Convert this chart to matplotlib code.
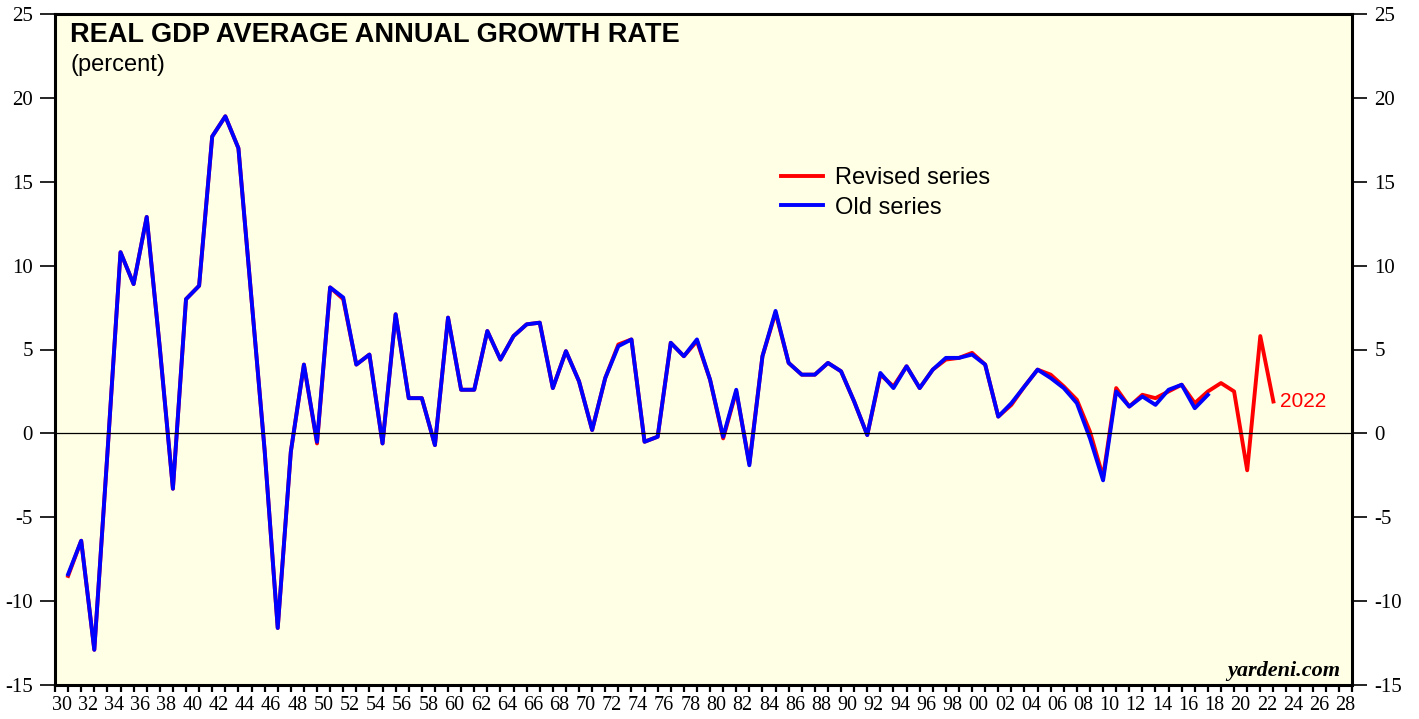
import matplotlib
matplotlib.use("Agg")
import matplotlib.pyplot as plt
from matplotlib.ticker import FixedLocator, NullFormatter

# annual real GDP growth, percent
years_rev = list(range(1930, 2023))
revised = [-8.5, -6.4, -12.9, -1.2, 10.8, 8.9, 12.9, 5.1, -3.3, 8.0,
           8.8, 17.7, 18.9, 17.0, 8.0, -1.0, -11.6, -1.1, 4.1, -0.6,
           8.7, 8.0, 4.1, 4.7, -0.6, 7.1, 2.1, 2.1, -0.7, 6.9,
           2.6, 2.6, 6.1, 4.4, 5.8, 6.5, 6.6, 2.7, 4.9, 3.1,
           0.2, 3.3, 5.3, 5.6, -0.5, -0.2, 5.4, 4.6, 5.5, 3.2,
           -0.3, 2.5, -1.8, 4.6, 7.2, 4.2, 3.5, 3.5, 4.2, 3.7,
           1.9, -0.1, 3.5, 2.8, 4.0, 2.7, 3.8, 4.4, 4.5, 4.8,
           4.1, 1.0, 1.7, 2.8, 3.8, 3.5, 2.8, 2.0, 0.1, -2.6,
           2.7, 1.6, 2.3, 2.1, 2.5, 2.9, 1.8, 2.5, 3.0, 2.5,
           -2.2, 5.8, 1.9]

years_old = list(range(1930, 2018))
old = [-8.4, -6.4, -12.9, -1.2, 10.8, 8.9, 12.9, 5.1, -3.3, 8.0,
       8.8, 17.7, 18.9, 17.0, 8.0, -1.0, -11.6, -1.1, 4.1, -0.5,
       8.7, 8.1, 4.1, 4.7, -0.6, 7.1, 2.1, 2.1, -0.7, 6.9,
       2.6, 2.6, 6.1, 4.4, 5.8, 6.5, 6.6, 2.7, 4.9, 3.1,
       0.2, 3.3, 5.2, 5.6, -0.5, -0.2, 5.4, 4.6, 5.6, 3.2,
       -0.2, 2.6, -1.9, 4.6, 7.3, 4.2, 3.5, 3.5, 4.2, 3.7,
       1.9, -0.1, 3.6, 2.7, 4.0, 2.7, 3.8, 4.5, 4.5, 4.7,
       4.1, 1.0, 1.8, 2.8, 3.8, 3.3, 2.7, 1.8, -0.3, -2.8,
       2.5, 1.6, 2.2, 1.7, 2.6, 2.9, 1.5, 2.3]

label_years = list(range(1930, 2029, 2))

serif = "Liberation Serif"
sans = "Liberation Sans"
plt.rcParams["axes.unicode_minus"] = False

fig = plt.figure(figsize=(14.19, 7.19), dpi=100)
ax = fig.add_axes([55 / 1419, 34 / 719, 1297 / 1419, 671 / 719])
ax.set_facecolor("#ffffe6")

# points sit at year end
ax.plot([y + 1 for y in years_rev], revised, color="#ff0000", lw=2.8,
        solid_joinstyle="round", label="Revised series")
ax.plot([y + 1 for y in years_old], old, color="#0000ff", lw=2.8,
        solid_joinstyle="round", label="Old series")
ax.axhline(0, color="black", lw=0.9)

ax.set_xlim(1930, 2029)
ax.set_ylim(-15, 25)

for s in ax.spines.values():
    s.set_linewidth(2.2)

# x: ticks at year boundaries, labels centred in the year
ax.xaxis.set_major_locator(FixedLocator(range(1930, 2030)))
ax.xaxis.set_major_formatter(NullFormatter())
ax.xaxis.set_minor_locator(FixedLocator([y + 0.5 for y in label_years]))
ax.set_xticklabels(["%02d" % (y % 100) for y in label_years], minor=True)
ax.tick_params(axis="x", which="major", direction="out", length=5, width=1.6)
ax.tick_params(axis="x", which="minor", length=0, pad=8, labelsize=14.5)
for t in ax.get_xticklabels(minor=True):
    t.set_fontfamily(serif)

ax.set_yticks(range(-15, 26, 5))
ax.tick_params(axis="y", which="major", direction="out", length=11, width=1.2,
               labelsize=15, left=True, right=True, labelleft=True, labelright=True, pad=5)
for t in ax.get_yticklabels():
    t.set_fontfamily(serif)

ax.text(0.0116, 0.988, "REAL GDP AVERAGE ANNUAL GROWTH RATE", transform=ax.transAxes,
        ha="left", va="top", fontsize=19.5, fontweight="bold", family=sans)
ax.text(0.0116, 0.94, "(percent)", transform=ax.transAxes,
        ha="left", va="top", fontsize=17, family=sans)

leg = ax.legend(loc="upper left", bbox_to_anchor=(0.543, 0.803), frameon=False,
                prop={"family": sans, "size": 17}, handlelength=1.8,
                handletextpad=0.5, labelspacing=0.3)

ax.text(2023.5, 1.9, "2022", color="#ff0000", fontsize=15, family=sans,
        ha="left", va="center")
ax.text(0.991, 0.014, "yardeni.com", transform=ax.transAxes, ha="right",
        va="baseline", fontsize=16, fontweight="bold", style="italic", family=serif)

fig.savefig("out.png", dpi=100)
